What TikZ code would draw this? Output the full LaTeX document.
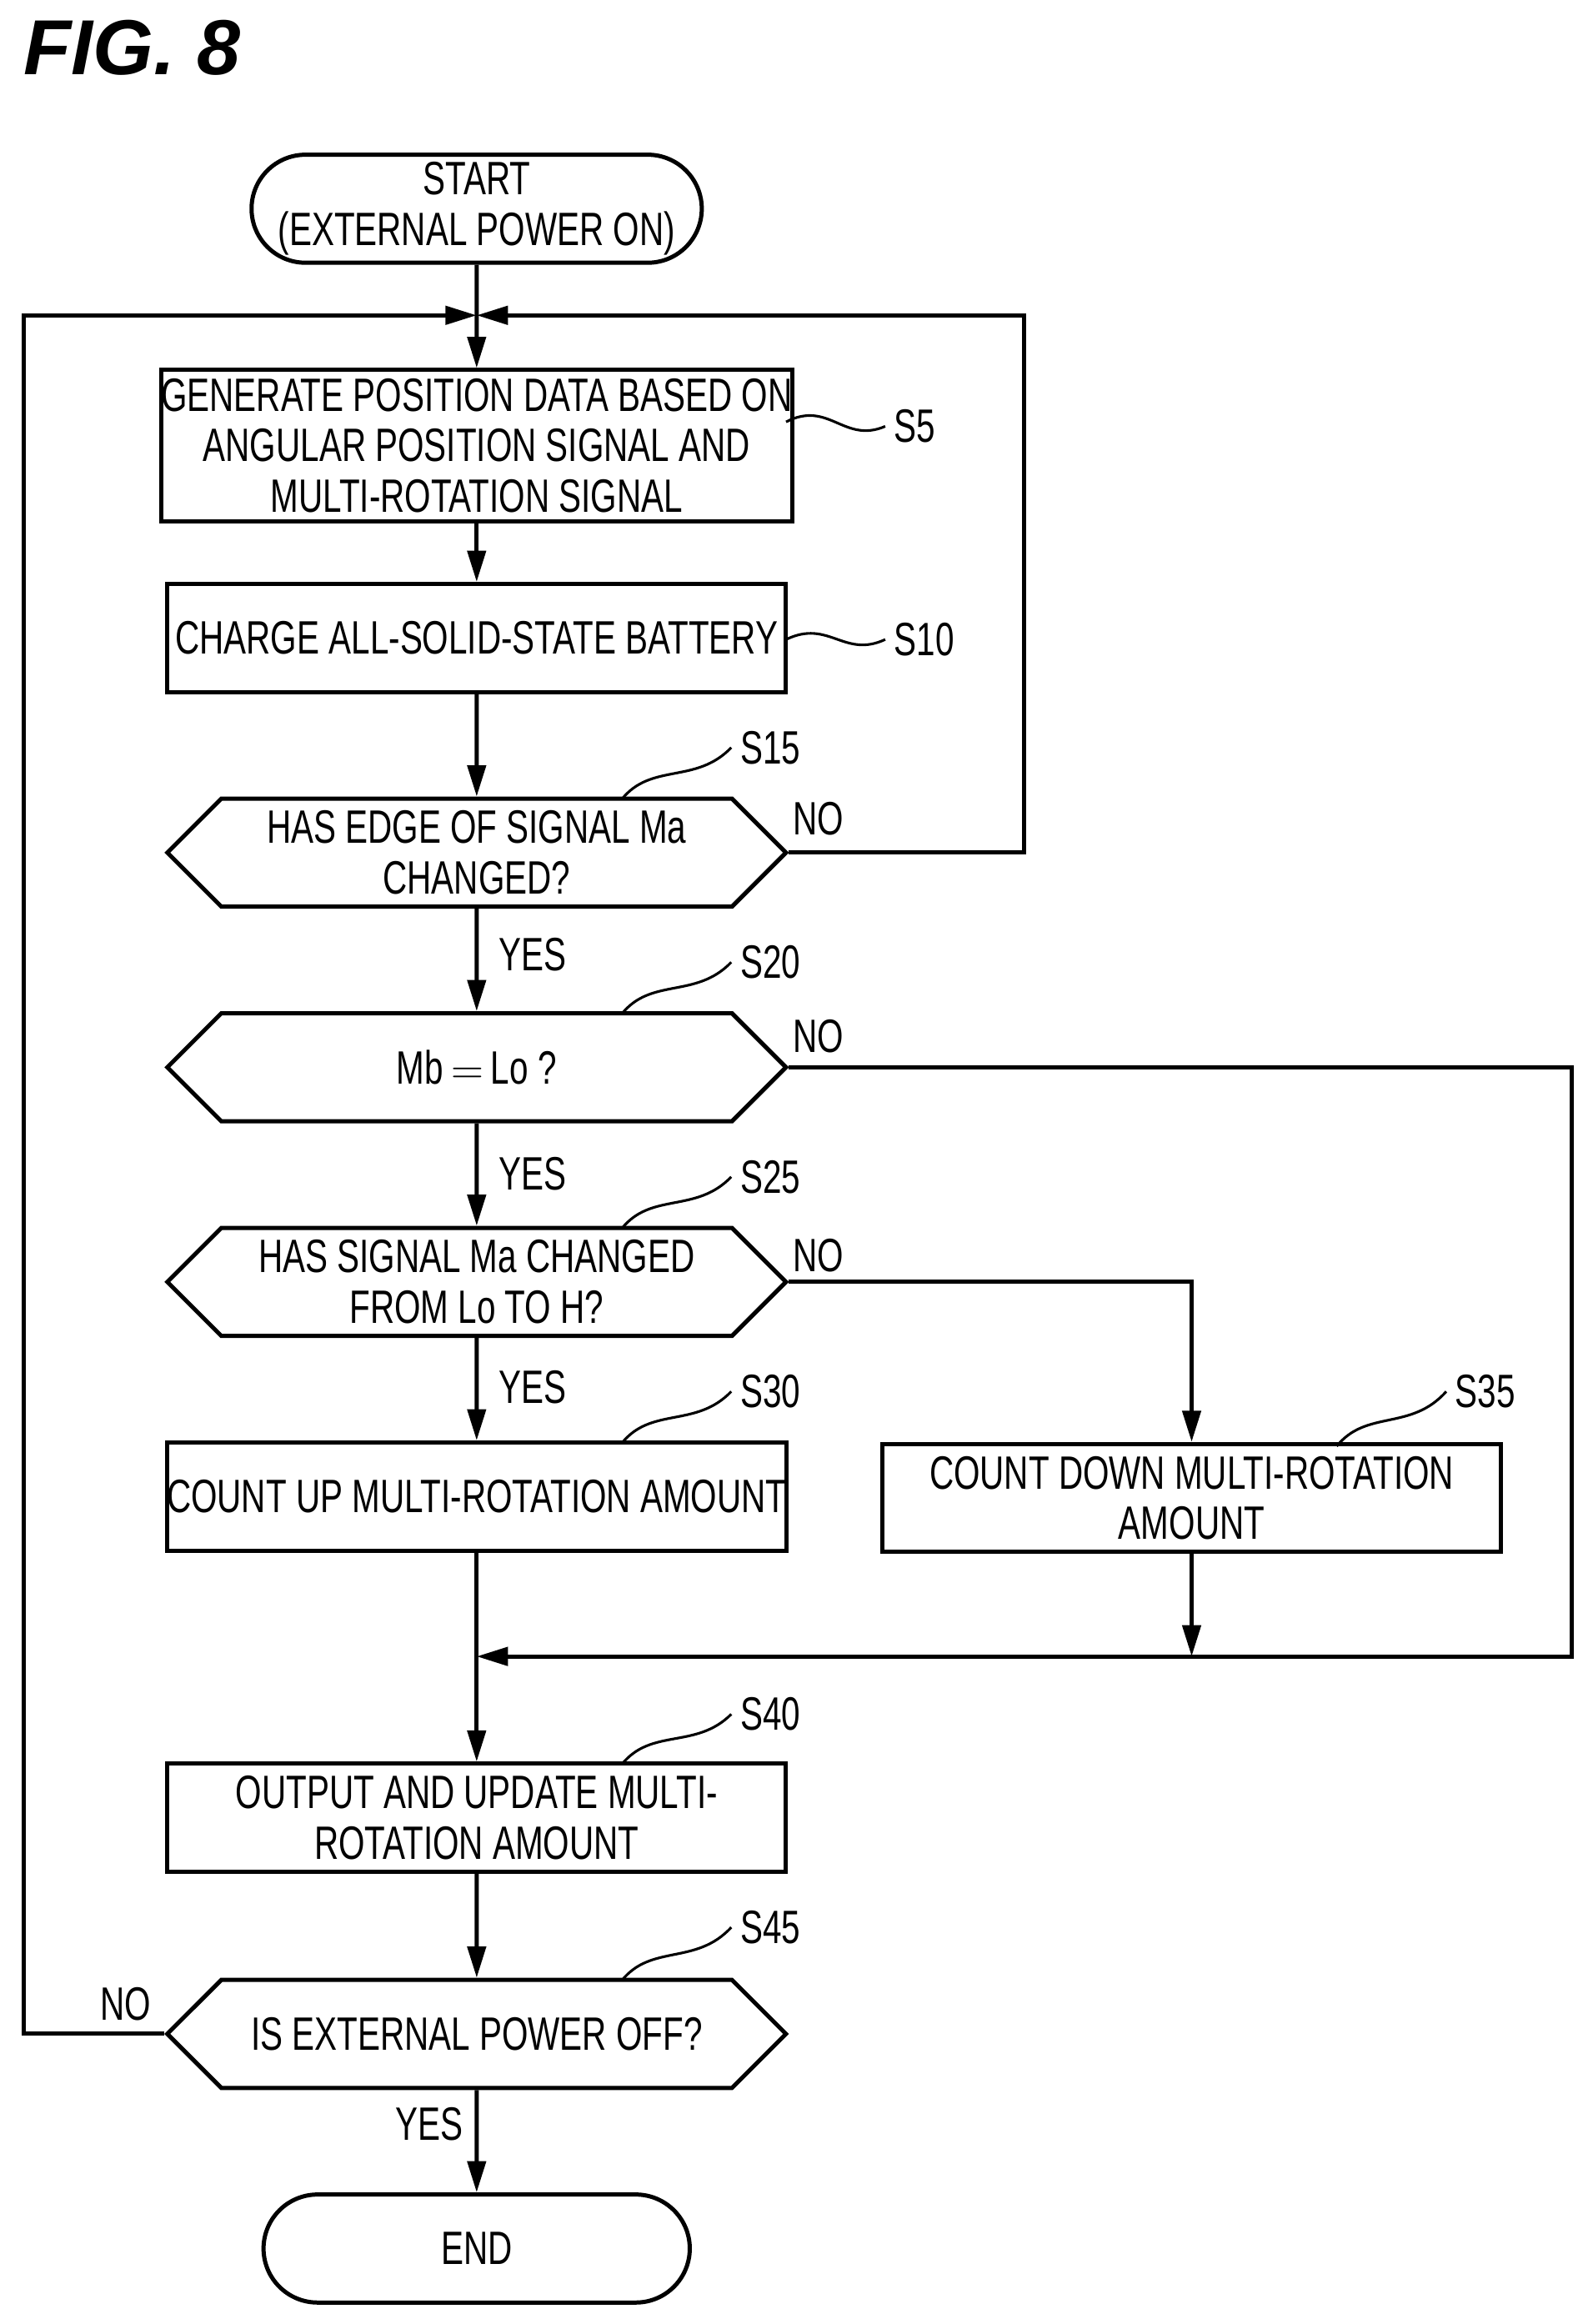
\documentclass[tikz,border=0pt]{standalone}
\usepackage{fontspec}
\setmainfont[FakeStretch=0.72]{Liberation Sans}
\newfontfamily\figfont{Liberation Sans}
\usetikzlibrary{shapes.symbols,shapes.misc,arrows.meta}
\begin{document}
\begin{tikzpicture}[x=0.02cm,y=-0.02cm,
  font=\fontsize{18}{19.5}\selectfont,
  process/.style={draw,line width=1.6pt,rectangle,minimum width=8.36cm,minimum height=1.46cm,inner sep=0pt,align=center},
  term/.style={draw,line width=1.6pt,rounded rectangle,minimum width=5.76cm,minimum height=1.46cm,inner sep=0pt,align=center},
  test/.style={draw,line width=1.6pt,signal,signal to=east and west,signal pointer angle=90,minimum width=8.36cm,minimum height=1.46cm,inner sep=0pt,align=center},
  flow/.style={line width=1.6pt,-{Triangle[length=12pt,width=7pt]}},
  lead/.style={line width=1pt}]
  \useasboundingbox (0,0) rectangle (1076,1570);

  % title
  \node[anchor=west,font=\figfont\bfseries\itshape\fontsize{30}{32}\selectfont] (fig) at (10,32) {FIG. 8};

  % flow nodes
  \node[term] (start) at (322,141) {START\\(EXTERNAL POWER ON)};
  \node[process,minimum height=2.04cm] (s5) at (322,301) {GENERATE POSITION DATA BASED ON\\ANGULAR POSITION SIGNAL AND\\MULTI-ROTATION SIGNAL};
  \node[process] (s10) at (322,431) {CHARGE ALL-SOLID-STATE BATTERY};
  \node[test] (s15) at (322,576) {HAS EDGE OF SIGNAL Ma\\CHANGED?};
  \node[test] (s20) at (322,721) {Mb$\,=\,$Lo ?};
  \node[test] (s25) at (322,866) {HAS SIGNAL Ma CHANGED\\FROM Lo TO H?};
  \node[process] (s30) at (322,1011) {COUNT UP MULTI-ROTATION AMOUNT};
  \node[process] (s35) at (805,1012) {COUNT DOWN MULTI-ROTATION\\AMOUNT};
  \node[process] (s40) at (322,1228) {OUTPUT AND UPDATE MULTI-\\ROTATION AMOUNT};
  \node[test] (s45) at (322,1374) {IS EXTERNAL POWER OFF?};
  \node[term] (end) at (322,1519) {END};

  % junctions
  \coordinate (top) at (322,213);
  \coordinate (mrg) at (322,1119);

  % connectors
  \draw[flow] (start) -- (s5);
  \draw[flow] (s5) -- (s10);
  \draw[flow] (s10) -- (s15);
  \draw[flow] (s15) -- (s20);
  \draw[flow] (s20) -- (s25);
  \draw[flow] (s25) -- (s30);
  \draw[line width=1.6pt] (s30) -- (mrg);
  \draw[flow] (mrg) -- (s40);
  \draw[flow] (s40) -- (s45);
  \draw[flow] (s45) -- (end);
  \draw[flow] (s15.east) -- (692,576) -- (692,213) -- (top);
  \draw[flow] (s45.west) -- (16,1374) -- (16,213) -- (top);
  \draw[flow] (s20.east) -- (1062,721) -- (1062,1119) -- (mrg);
  \draw[flow] (s25.east) -| (s35.north);
  \draw[flow] (s35.south) -- (805,1119);

  % yes / no
  \node (n15) at (553,553) {NO};
  \node (n20) at (553,700) {NO};
  \node (n25) at (553,848) {NO};
  \node (n45) at (85,1354) {NO};
  \node (y15) at (360,645) {YES};
  \node (y20) at (360,793) {YES};
  \node (y25) at (360,937) {YES};
  \node (y45) at (290,1435) {YES};

  % step labels
  \node[anchor=west] (l5) at (598,288) {S5};
  \node[anchor=west] (l10) at (598,432) {S10};
  \node[anchor=west] (l15) at (494,505) {S15};
  \node[anchor=west] (l20) at (494,650) {S20};
  \node[anchor=west] (l25) at (494,795) {S25};
  \node[anchor=west] (l30) at (494,940) {S30};
  \node[anchor=west] (l35) at (977,940) {S35};
  \node[anchor=west] (l40) at (494,1158) {S40};
  \node[anchor=west] (l45) at (494,1302) {S45};
  \draw[lead] (531,285) .. controls (560,270) and (570,300) .. (l5.west);
  \draw[lead] (531,432) .. controls (560,418) and (570,445) .. (l10.west);
  \draw[lead] (420,540) .. controls (440,515) and (470,530) .. (l15.west);
  \draw[lead] (420,685) .. controls (440,660) and (470,675) .. (l20.west);
  \draw[lead] (420,830) .. controls (440,805) and (470,820) .. (l25.west);
  \draw[lead] (420,975) .. controls (440,950) and (470,965) .. (l30.west);
  \draw[lead] (903,977) .. controls (923,952) and (953,967) .. (l35.west);
  \draw[lead] (420,1192) .. controls (440,1167) and (470,1182) .. (l40.west);
  \draw[lead] (420,1338) .. controls (440,1313) and (470,1328) .. (l45.west);
\end{tikzpicture}
\end{document}
